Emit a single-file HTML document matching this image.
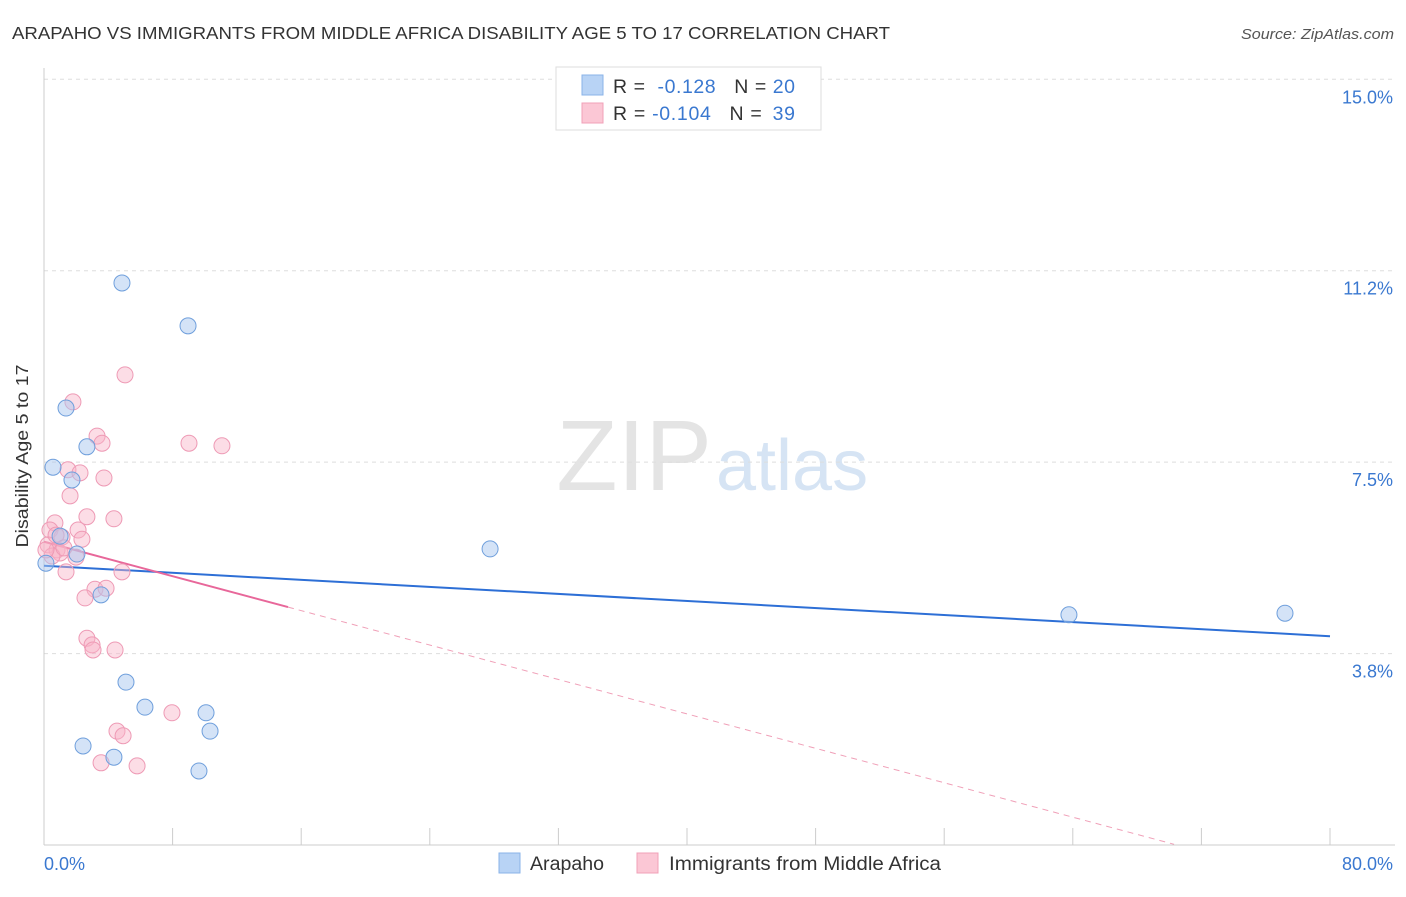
<!DOCTYPE html>
<html><head><meta charset="utf-8"><style>
body{margin:0;background:#fff;font-family:"Liberation Sans",sans-serif;}
svg text{font-family:"Liberation Sans",sans-serif;}
</style></head><body>
<svg id="chart" width="1406" height="892" xmlns="http://www.w3.org/2000/svg">
<text x="12" y="39" font-size="17.5" fill="#333" textLength="878" lengthAdjust="spacingAndGlyphs">ARAPAHO VS IMMIGRANTS FROM MIDDLE AFRICA DISABILITY AGE 5 TO 17 CORRELATION CHART</text>
<text x="1394" y="39" font-size="15" fill="#555" font-style="italic" text-anchor="end" textLength="153" lengthAdjust="spacingAndGlyphs">Source: ZipAtlas.com</text>
<text x="712" y="490" font-size="100" fill="#e4e4e4" text-anchor="end" font-family="Liberation Serif">ZIP</text>
<text x="716" y="490" font-size="72" fill="#d6e4f4">atlas</text>
<text x="28" y="456" font-size="17.5" fill="#333" text-anchor="middle" textLength="183" lengthAdjust="spacingAndGlyphs" transform="rotate(-90 28 456)">Disability Age 5 to 17</text>
<g id="grid"></g><g id="axes"></g><g id="lines"></g><g id="pts"></g>
<g>
<rect x="556" y="67" width="265" height="63" fill="#fff" stroke="#ddd"/>
<rect x="582" y="75" width="21" height="20" fill="#b8d3f5" stroke="#8ab3e8"/>
<rect x="582" y="103" width="21" height="20" fill="#fbc7d5" stroke="#f0a0b8"/>
<text x="613" y="93" font-size="19.5" fill="#333" textLength="182" lengthAdjust="spacing">R = <tspan fill="#3a78d0" dx="6">-0.128</tspan><tspan dx="18" fill="#333">N = </tspan><tspan fill="#3a78d0">20</tspan></text>
<text x="613" y="120" font-size="19.5" fill="#333" textLength="182" lengthAdjust="spacing">R = <tspan fill="#3a78d0">-0.104</tspan><tspan dx="18" fill="#333">N = </tspan><tspan fill="#3a78d0" dx="4">39</tspan></text>
</g>
<g>
<rect x="499" y="853" width="21" height="20" fill="#b8d3f5" stroke="#8ab3e8"/>
<text x="530" y="870" font-size="19" fill="#333" textLength="74" lengthAdjust="spacingAndGlyphs">Arapaho</text>
<rect x="637" y="853" width="21" height="20" fill="#fbc7d5" stroke="#f0a0b8"/>
<text x="669" y="870" font-size="19" fill="#333" textLength="272" lengthAdjust="spacingAndGlyphs">Immigrants from Middle Africa</text>
</g>
</svg>
<script>
const yTicks=[3.75,7.5,11.25,15];
const yTickLabels=["3.8%","7.5%","11.2%","15.0%"];
const xTicks=[0,8,16,24,32,40,48,56,64,72,80];
const xTickLabels=["0.0%","80.0%"];
const blueX=[4.85,8.96,1.37,2.67,0.56,1.74,1.0,2.05,0.12,3.55,27.75,63.76,77.2,5.1,6.28,10.08,10.33,2.43,4.35,9.64];
const blueY=[11.01,10.17,8.56,7.80,7.40,7.15,6.05,5.70,5.52,4.90,5.80,4.51,4.54,3.19,2.70,2.59,2.23,1.94,1.72,1.45];
const pinkX=[5.04,1.80,3.30,3.61,9.02,11.07,1.49,2.24,3.73,1.62,2.67,4.35,0.68,0.37,2.12,1.12,2.36,0.25,0.81,1.0,0.5,1.99,1.37,4.85,3.17,3.86,2.55,2.67,2.99,3.05,4.42,7.96,4.54,4.92,3.55,5.79,0.75,0.12,1.24];
const pinkY=[9.21,8.68,8.01,7.87,7.87,7.82,7.35,7.29,7.19,6.84,6.43,6.39,6.31,6.17,6.17,6.03,5.99,5.88,5.78,5.72,5.66,5.64,5.35,5.35,5.01,5.03,4.84,4.05,3.92,3.82,3.82,2.59,2.23,2.14,1.61,1.55,6.07,5.78,5.82];
const blueTrend=[5.47,4.09];      // value at x=0 and x=80
const pinkTrend=[5.94,-0.0843];   // intercept, slope
const pinkSolidEnd=15.18, pinkDashEnd=70.3;
const X=v=>44+v*16.075, Y=v=>845-v*51.05;
const NS="http://www.w3.org/2000/svg";
function mk(t,a,p){const e=document.createElementNS(NS,t);for(const k in a)e.setAttribute(k,a[k]);document.getElementById(p).appendChild(e);return e;}
yTicks.forEach((v,i)=>{
 const l=mk('line',{x1:44,x2:1395,y1:Y(v),y2:Y(v),stroke:'#ddd','stroke-dasharray':'4 4'},'grid');
 
 
 const t=mk('text',{x:1393,y:Y(v)+24,'font-size':18,fill:'#3a78d0','text-anchor':'end'},'grid');t.textContent=yTickLabels[i];
 
 
});
const ax=mk('line',{x1:44,x2:1395,y1:845,y2:845,stroke:'#ccc'},'axes');


const ay=mk('line',{x1:44,x2:44,y1:68,y2:845,stroke:'#ccc'},'axes');


xTicks.forEach(v=>{const t=mk('line',{x1:X(v),x2:X(v),y1:828,y2:845,stroke:'#ccc'},'axes');
 
 });
const xl0=mk('text',{x:44,y:870,'font-size':18,fill:'#3a78d0'},'axes');xl0.textContent=xTickLabels[0];


const xl1=mk('text',{x:1393,y:870,'font-size':18,fill:'#3a78d0','text-anchor':'end'},'axes');xl1.textContent=xTickLabels[1];


const bl=mk('line',{x1:X(0),y1:Y(blueTrend[0]),x2:X(80),y2:Y(blueTrend[1]),stroke:'#2d6fd6','stroke-width':2},'lines');


const pf=x=>pinkTrend[0]+pinkTrend[1]*x;
const pd=mk('line',{x1:X(pinkSolidEnd),y1:Y(pf(pinkSolidEnd)),x2:X(pinkDashEnd),y2:Y(pf(pinkDashEnd)),stroke:'#f0a0b8','stroke-width':1,'stroke-dasharray':'6 5'},'lines');


const ps=mk('line',{x1:X(0),y1:Y(pf(0)),x2:X(pinkSolidEnd),y2:Y(pf(pinkSolidEnd)),stroke:'#e8679a','stroke-width':2},'lines');


pinkX.forEach((x,i)=>{const c=mk('circle',{cx:X(x),cy:Y(pinkY[i]),r:8,fill:'rgba(248,180,200,0.45)',stroke:'#ee9ab5','stroke-width':1},'pts');
 
 });
blueX.forEach((x,i)=>{const c=mk('circle',{cx:X(x),cy:Y(blueY[i]),r:8,fill:'rgba(170,200,240,0.5)',stroke:'#6f9fdc','stroke-width':1},'pts');
 
 });
</script>
</body></html>
